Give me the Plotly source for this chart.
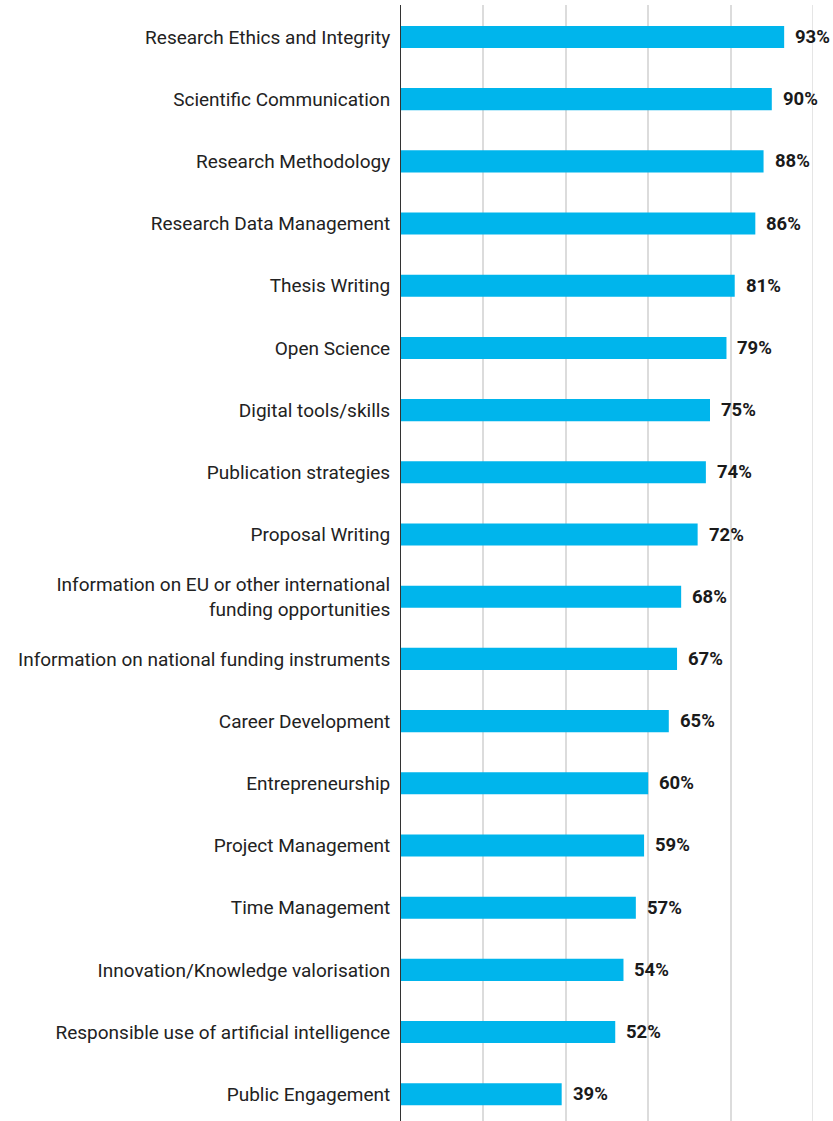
import plotly.graph_objects as go

categories = [
    "Research Ethics and Integrity",
    "Scientific Communication",
    "Research Methodology",
    "Research Data Management",
    "Thesis Writing",
    "Open Science",
    "Digital tools/skills",
    "Publication strategies",
    "Proposal Writing",
    "Information on EU or other international<br>funding opportunities",
    "Information on national funding instruments",
    "Career Development",
    "Entrepreneurship",
    "Project Management",
    "Time Management",
    "Innovation/Knowledge valorisation",
    "Responsible use of artificial intelligence",
    "Public Engagement",
]
values = [93, 90, 88, 86, 81, 79, 75, 74, 72, 68, 67, 65, 60, 59, 57, 54, 52, 39]
value_labels = [f"{v}%" for v in values]

FONT = "Roboto, sans-serif"

fig = go.Figure()
fig.add_trace(go.Bar(
    x=values,
    y=categories,
    orientation="h",
    marker=dict(color="#00B5EC", line=dict(width=0)),
    width=0.355,
    hoverinfo="skip",
))

for c, v, t in zip(categories, values, value_labels):
    fig.add_annotation(
        x=v, y=c, text=f"<b>{t}</b>", showarrow=False,
        xanchor="left", yanchor="middle", xshift=9,
        font=dict(family=FONT, size=18.5, color="#1a1a1a"),
    )

# gridline at the right edge of the range (100%)
fig.add_vline(x=100, line=dict(color="#dcdcdc", width=1.5), layer="below")

fig.update_layout(
    width=833, height=1121,
    margin=dict(l=401, r=20, t=5, b=0),
    paper_bgcolor="white",
    plot_bgcolor="white",
    showlegend=False,
    font=dict(family=FONT, size=19, color="#222222"),
    xaxis=dict(
        range=[0, 100],
        dtick=20,
        showticklabels=False,
        showgrid=True,
        gridcolor="#dcdcdc",
        gridwidth=1.5,
        zeroline=False,
        showline=False,
        fixedrange=True,
    ),
    yaxis=dict(
        type="category",
        categoryorder="array",
        categoryarray=categories,
        range=[17.43, -0.514],
        showgrid=False,
        zeroline=False,
        showline=True,
        linecolor="#333333",
        linewidth=1,
        ticks="",
        ticklabelstandoff=6,
        tickfont=dict(family=FONT, size=19, color="#222222"),
        fixedrange=True,
    ),
)

fig.write_html(
    "out.html",
    config={"displayModeBar": False},
    post_script="document.body.style.margin='0';document.body.style.overflow='hidden';",
)
